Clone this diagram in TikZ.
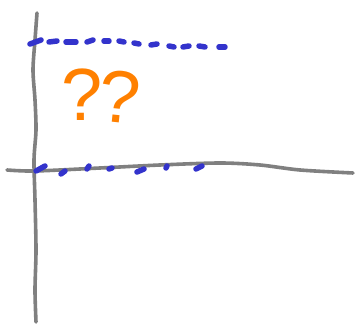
\documentclass[tikz,border=0pt]{standalone}
\usepackage{fontspec}
\setsansfont{Liberation Sans}
\definecolor{penblue}{RGB}{51,51,204}
\definecolor{penorange}{RGB}{255,128,0}
\definecolor{pengray}{RGB}{128,128,128}
\begin{document}
\begin{tikzpicture}[x=1pt, y=-1pt]
  \useasboundingbox (0,0) rectangle (360,328);
  % axes, drawn by hand
  \draw[pengray, line width=3.6pt, line cap=round] plot[smooth] coordinates
    {(37,13) (35,40) (33,70) (35,100) (36,130) (34,160) (35,200) (36,250) (35,290) (36,322)};
  \draw[pengray, line width=3.6pt, line cap=round] plot[smooth] coordinates
    {(7,170) (35,171) (100,168) (160,165) (220,163) (260,165) (300,170) (353,173)};

  % upper dashed level
  \foreach \xa/\ya/\xb/\yb in {30/44/41/40, 49/42/57/41, 66/42/76/42, 87/42/93/40,
      104/41/109/41, 119/41/124/42, 134/43/139/44, 151/45/157/44, 169/46/174/47,
      183/47/189/46, 199/46/205/47, 219/47/225/47}
    \draw[penblue, line width=5.5pt, line cap=round] (\xa,\ya) -- (\xb,\yb);

  % lower dashed level, on the axis
  \foreach \xa/\ya/\xb/\yb in {36/171/45/166, 61/174/65/171, 87/169/89/166,
      109/169/112/168, 137/172/144/169, 166/168/167/166, 196/169/202/166}
    \draw[penblue, line width=5.5pt, line cap=round] (\xa,\ya) -- (\xb,\yb);

  \node[penorange, font=\sffamily\fontsize{74}{74}\selectfont] (q1) at (82,95) {?};
  \node[penorange, font=\sffamily\fontsize{74}{74}\selectfont, rotate=-6] (q2) at (120,97) {?};
\end{tikzpicture}
\end{document}
